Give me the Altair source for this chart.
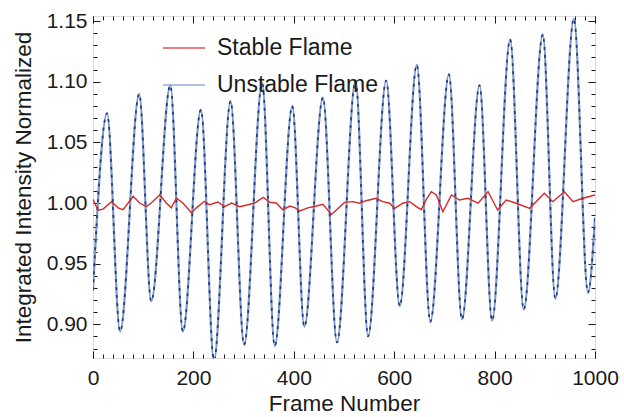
import altair as alt
import pandas as pd

# ---- data ----
SERIES = ["Stable Flame", "Unstable Flame"]

BLUE_FRAMES = [0, 28, 54, 92, 116, 154, 179, 215, 241, 274, 301, 337, 362, 397, 421, 458,
               486, 523, 548, 584, 611, 645, 672, 709, 735, 770, 795, 831, 858, 896, 921,
               958, 986, 1000]
BLUE_VALUES = [0.928, 1.074, 0.894, 1.090, 0.919, 1.097, 0.894, 1.077, 0.870, 1.084, 0.883,
               1.099, 0.882, 1.080, 0.898, 1.087, 0.885, 1.101, 0.890, 1.101, 0.915, 1.114,
               0.902, 1.106, 0.904, 1.097, 0.903, 1.135, 0.912, 1.139, 0.921, 1.152, 0.926,
               0.988]

RED_FRAMES = [0, 10, 20, 37, 50, 60, 80, 93, 106, 116,
              133, 146, 156, 166, 179, 196, 206, 222, 232, 249,
              262, 276, 292, 309, 322, 339, 352, 365, 378, 392,
              402, 412, 428, 445, 458, 475, 488, 501, 518, 531,
              544, 564, 577, 591, 601, 617, 631, 644, 654, 664,
              674, 684, 697, 714, 730, 747, 767, 787, 806, 823,
              843, 870, 899, 916, 939, 956, 976, 1000]
RED_VALUES = [1.003, 0.994, 0.995, 1.001, 0.996, 0.9945, 1.0055, 1.000, 0.997, 1.000,
              1.0068, 1.000, 0.996, 1.004, 1.000, 0.992, 0.996, 1.0014, 0.9986, 1.0008,
              0.997, 1.000, 0.997, 0.9986, 1.000, 1.0047, 1.0006, 1.000, 0.9944, 0.9975,
              0.9962, 0.9935, 0.996, 0.9975, 0.999, 0.9905, 0.9955, 1.0005, 1.0011, 0.9998,
              1.0019, 1.0039, 1.0011, 0.9998, 0.9956, 0.9998, 1.0011, 0.997, 0.9945, 1.003,
              1.0093, 1.0066, 0.9928, 1.0066, 1.0025, 1.0039, 0.9998, 1.0093, 0.9942, 1.0025,
              0.9998, 0.9956, 1.008, 1.0011, 1.0093, 1.0011, 1.0039, 1.0066]

X_MAJOR = [0, 200, 400, 600, 800, 1000]
Y_MAJOR = [0.90, 0.95, 1.00, 1.05, 1.10, 1.15]

assert len(BLUE_FRAMES) == len(BLUE_VALUES)
assert len(RED_FRAMES) == len(RED_VALUES)

blue_df = pd.DataFrame({"frame": BLUE_FRAMES, "value": BLUE_VALUES, "series": SERIES[1]})
red_df = pd.DataFrame({"frame": RED_FRAMES, "value": RED_VALUES, "series": SERIES[0]})

# ---- styling ----
FONT = "Liberation Sans"
TXT = "#1a1a1a"
RED = "#d42a2a"
BLUE_LIGHT = "#7f98c4"
BLUE_DARK = "#1a3a8c"
X_DOMAIN = [0, 1000]
Y_DOMAIN = [0.8722, 1.1542]
X_MINOR = list(range(0, 1001, 20))
Y_MINOR = [round(0.88 + 0.01 * i, 2) for i in range(28)]

xs = alt.Scale(domain=X_DOMAIN, nice=False, zero=False)
ys = alt.Scale(domain=Y_DOMAIN, nice=False, zero=False)


def ax(orient, values, size, labels=False, title=None, fmt=None, lpad=6, tpad=9):
    kw = dict(orient=orient, values=values, tickSize=size, offset=-size, domain=False,
              grid=False, labels=labels, tickColor=TXT, tickWidth=1,
              labelFont=FONT, labelFontSize=21, labelColor=TXT, labelPadding=lpad,
              labelFlush=False, labelOverlap=False, labelBound=False,
              titleFont=FONT, titleFontSize=22.5, titleColor=TXT, titleFontWeight="normal",
              titlePadding=tpad, title=title)
    if fmt:
        kw["format"] = fmt
    return alt.Axis(**kw)


color = alt.Color(
    "series:N",
    scale=alt.Scale(domain=SERIES, range=[RED, BLUE_LIGHT]),
    legend=alt.Legend(orient="none", legendX=69, legendY=10, title=None,
                      symbolType="stroke", symbolSize=1764, symbolStrokeWidth=1.6,
                      symbolOpacity=0.8, labelFont=FONT, labelFontSize=23,
                      labelColor=TXT, labelOffset=11, rowPadding=3, padding=0,
                      labelLimit=0),
)

blue_light = alt.Chart(blue_df).mark_line(
    interpolate="monotone", strokeWidth=2.2, clip=True
).encode(
    x=alt.X("frame:Q", scale=xs,
            axis=ax("bottom", X_MAJOR, 7, labels=True, title="Frame Number", fmt="d",
                    lpad=9, tpad=4)),
    y=alt.Y("value:Q", scale=ys,
            axis=ax("left", Y_MAJOR, 7, labels=True,
                    title="Integrated Intensity Normalized", fmt=".2f", lpad=6, tpad=11)),
    color=color,
)

blue_dash = alt.Chart(blue_df).mark_line(
    interpolate="monotone", strokeWidth=1.7, color=BLUE_DARK, strokeDash=[3, 5], clip=True
).encode(
    x=alt.X("frame:Q", scale=xs, axis=ax("bottom", X_MINOR, 4)),
    y=alt.Y("value:Q", scale=ys, axis=ax("left", Y_MINOR, 4)),
)

red = alt.Chart(red_df).mark_line(strokeWidth=1.4, clip=True).encode(
    x=alt.X("frame:Q", scale=xs, axis=ax("top", X_MAJOR, 7)),
    y=alt.Y("value:Q", scale=ys, axis=ax("right", Y_MAJOR, 7)),
    color=color,
)

invis = alt.Chart(red_df).mark_line(opacity=0).encode(
    x=alt.X("frame:Q", scale=xs, axis=ax("top", X_MINOR, 4)),
    y=alt.Y("value:Q", scale=ys, axis=ax("right", Y_MINOR, 4)),
)

chart = alt.layer(blue_light, blue_dash, red, invis).resolve_scale(
    x="independent", y="independent"
).properties(
    width=502, height=342,
    autosize=alt.AutoSizeParams(type="none"),
    padding={"left": 93, "top": 16, "right": 29, "bottom": 59},
).configure_view(stroke="#222222", strokeWidth=1.3).configure(background="white")

chart.save("out.html", embed_options={"renderer": "svg", "actions": False})
